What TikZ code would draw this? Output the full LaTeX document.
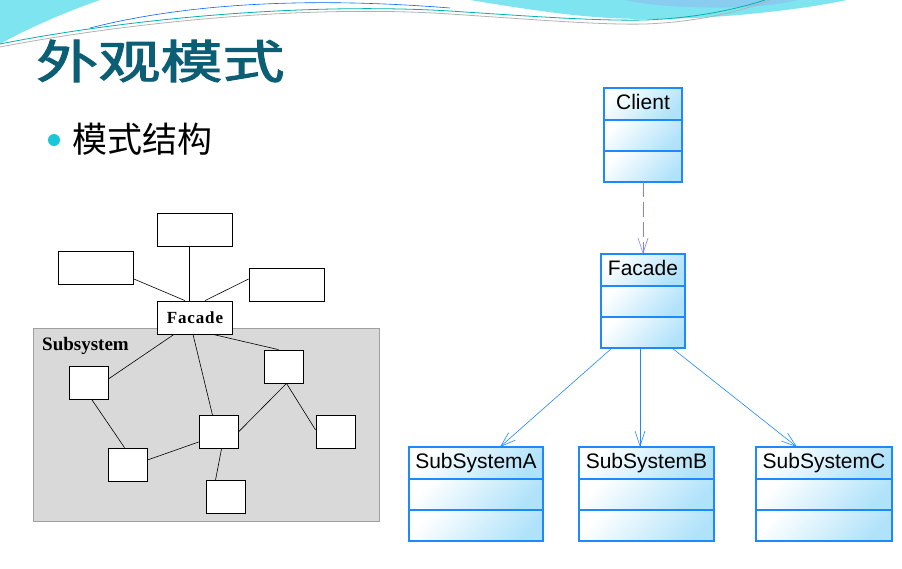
\documentclass[tikz,border=0pt]{standalone}
\usepackage{fontspec}
\setmainfont{Liberation Serif}
\newfontfamily\umlfont{Liberation Sans}
\newfontfamily\cjkfont{Noto Sans CJK SC}
\newfontfamily\cjktitle[FakeBold=2]{Noto Sans CJK SC}
\usetikzlibrary{arrows.meta,positioning}
\definecolor{umlblue}{RGB}{30,136,255}
\definecolor{umlfill}{RGB}{176,226,250}
\definecolor{deplilac}{RGB}{128,128,255}
\definecolor{titleteal}{RGB}{12,94,116}
\definecolor{wavecyan}{RGB}{126,228,240}
\definecolor{wavesky}{RGB}{136,204,240}
\definecolor{bulletcyan}{RGB}{24,200,214}
\tikzset{every node/.append style={transform shape=false}}
\tikzset{
  plainbox/.style={draw, fill=white, line width=.8pt, inner sep=0pt,
    minimum width=75pt, minimum height=33pt},
  cellbox/.style={plainbox, minimum width=39pt},
  umlcell/.style={draw=umlblue, line width=1.1pt, top color=white,
    bottom color=umlfill, shading angle=45, inner sep=0pt, outer sep=0pt,
    minimum height=31pt},
  umlname/.style={umlcell, minimum height=32pt, anchor=north, text depth=4.5pt,
    font=\umlfont\fontsize{21}{24}\selectfont},
  umlarrow/.style={umlblue, line width=.6pt,
    -{Straight Barb[length=15pt,width=10pt]}},
  wire/.style={line width=.6pt}
}
\newcommand{\umlclass}[5]{%
  \node[umlname, minimum width=#4] (#1) at (#2,#3) {#5};
  \node[umlcell, minimum width=#4, below=0pt of #1] (#1-a) {};
  \node[umlcell, minimum width=#4, below=0pt of #1-a] (#1-m) {};
}
\begin{document}
\begin{tikzpicture}[x=1pt, y=-1pt]
  \useasboundingbox (0,0) rectangle (902,568);
  \fill[white] (0,0) rectangle (902,568);
  \fill[wavecyan] (0,0) -- (100,0) .. controls (60,14) and (25,30) .. (0,44) -- cycle;
  \fill[wavecyan] (470,0) .. controls (560,15) and (600,19) .. (650,19)
    .. controls (720,19) and (800,10) .. (847,0) -- cycle;
  \fill[wavesky] (625,0) .. controls (660,8) and (720,9) .. (760,6)
    .. controls (780,4) and (790,2) .. (797,0) -- cycle;
  \draw[gray!60, line width=.8pt] (0,47) .. controls (120,24) and (300,4) .. (450,14)
    .. controls (540,20) and (600,25) .. (645,24) .. controls (700,22) and (745,10) .. (770,0);
  \draw[teal!60!cyan, line width=.8pt] (0,44) .. controls (120,20) and (300,2) .. (450,11)
    .. controls (540,17) and (600,21) .. (645,20) .. controls (700,18) and (740,8) .. (765,0);
  \draw[blue!60!cyan, line width=.6pt] (90,28) .. controls (180,5) and (300,-4) .. (450,8);

  \node[anchor=west, inner sep=0pt, text=titleteal,
    font=\cjktitle\fontsize{46}{50}\selectfont] (title) at (36,61)
    {\scalebox{1.35}[1]{外观模式}};
  \node[circle, fill=bulletcyan, minimum size=12pt, inner sep=0pt] (dot) at (54,140) {};
  \node[anchor=west, inner sep=0pt, font=\cjkfont\fontsize{35}{40}\selectfont]
    (heading) at (72,139) {模式结构};

  \node[draw=gray!75, fill=gray!30, minimum width=346pt, minimum height=193pt,
    inner sep=0pt] (subsys) at (206,424.5) {};
  \node[anchor=west, inner sep=0pt, font=\bfseries\fontsize{19}{22}\selectfont]
    (sublabel) at (42,346) {Subsystem};
  \node[plainbox] (topcl) at (194.5,229.5) {};
  \node[plainbox] (leftcl) at (96,268) {};
  \node[plainbox] (rightcl) at (286.5,285) {};
  \node[plainbox, font=\bfseries\fontsize{17}{20}\selectfont\addfontfeature{LetterSpace=5}]
    (facadebox) at (195,317.5) {Facade};
  \node[cellbox] (b1) at (88.5,383) {};
  \node[cellbox] (b2) at (283.5,366.5) {};
  \node[cellbox] (b3) at (218.5,432) {};
  \node[cellbox] (b4) at (127.5,464.5) {};
  \node[cellbox] (b5) at (335.5,432) {};
  \node[cellbox] (b6) at (225.5,497) {};
  \draw[wire] ([xshift=-5.5pt]topcl.south) -- ([xshift=-6pt]facadebox.north);
  \draw[wire] ([yshift=-11pt]leftcl.east) -- ([xshift=-10pt]facadebox.north);
  \draw[wire] ([yshift=6pt]rightcl.west) -- ([xshift=10pt]facadebox.north);
  \draw[wire] ([xshift=-21pt]facadebox.south) -- ([yshift=4pt]b1.east);
  \draw[wire] ([xshift=-2pt]facadebox.south) -- ([xshift=-6pt]b3.north);
  \draw[wire] ([xshift=18pt]facadebox.south) -- ([xshift=-5pt]b2.north);
  \draw[wire] ([xshift=3.5pt]b1.south) -- ([xshift=-3pt]b4.north);
  \draw[wire] ([yshift=4.5pt]b4.east) -- ([yshift=-10pt]b3.west);
  \draw[wire] (b3.east) -- ([xshift=3pt]b2.south);
  \draw[wire] ([xshift=3pt]b2.south) -- ([yshift=2pt]b5.west);
  \draw[wire] ([xshift=3pt]b3.south) -- ([xshift=-10pt]b6.north);

  \umlclass{client}{643}{88}{78pt}{Client}
  \umlclass{facade}{643}{254}{84pt}{Facade}
  \umlclass{subA}{476}{447}{134pt}{SubSystemA}
  \umlclass{subB}{646.5}{447}{135pt}{SubSystemB}
  \umlclass{subC}{824}{447}{136pt}{SubSystemC}
  \draw[umlarrow, deplilac, dash pattern=on 15pt off 5pt] (client-m.south) -- (facade.north);
  \draw[umlarrow] ([xshift=-31pt]facade-m.south) -- ([xshift=24pt]subA.north);
  \draw[umlarrow] ([xshift=-3pt]facade-m.south) -- ([xshift=-6.5pt]subB.north);
  \draw[umlarrow] ([xshift=29pt]facade-m.south) -- ([xshift=-27pt]subC.north);
\end{tikzpicture}
\end{document}
